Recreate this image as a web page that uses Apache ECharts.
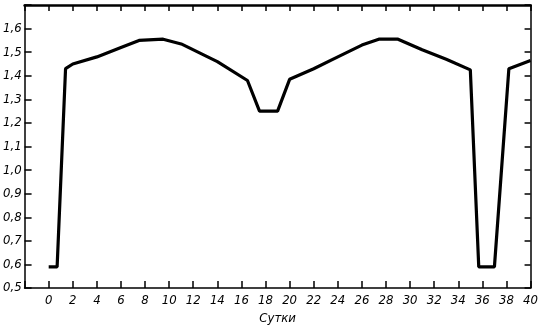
<!DOCTYPE html>
<html><head><meta charset="utf-8">
<script src="https://cdn.jsdelivr.net/npm/echarts@6/dist/echarts.min.js"></script>
<style>html,body{margin:0;padding:0;background:#fff}#c{width:541px;height:330px}</style>
</head><body><div id="c"></div>
<script>
var days = [0, 0.7, 1.4, 2, 4, 6, 7.5, 9.5, 11, 14, 16.5, 17.5, 19, 20, 22, 24, 26, 27.4, 29, 31, 33, 35, 35.7, 37, 38.2, 40];
var values = [0.59, 0.59, 1.43, 1.45, 1.48, 1.52, 1.55, 1.555, 1.535, 1.46, 1.38, 1.25, 1.25, 1.385, 1.43, 1.48, 1.53, 1.555, 1.555, 1.51, 1.47, 1.425, 0.59, 0.59, 1.43, 1.465];
var xName = 'Сутки';
var xRange = [-2, 40, 2];
var yRange = [0.5, 1.7, 0.1];

var pts = days.map(function (d, i) { return [d, values[i]]; });
var font = {fontFamily: 'DejaVu Sans Condensed', fontStyle: 'italic', fontSize: 13, color: '#000'};
var chart = echarts.init(document.getElementById('c'), null, {renderer: 'canvas'});
chart.setOption({
  animation: false,
  backgroundColor: '#fff',
  grid: {left: 20, right: 9, top: 5, bottom: 35, containLabel: false},
  xAxis: [{
    type: 'value', min: xRange[0], max: xRange[1], interval: xRange[2],
    name: xName, nameLocation: 'middle', nameGap: 18,
    nameTextStyle: Object.assign({}, font, {fontSize: 13}),
    axisLine: {onZero: false, lineStyle: {color: '#000', width: 1.5}},
    axisTick: {inside: true, length: 7, lineStyle: {color: '#000', width: 1.5}},
    axisLabel: Object.assign({}, font, {margin: 6, formatter: function (v) { return v < 0 ? '' : String(v); }}),
    splitLine: {show: false}
  }, {
    type: 'value', position: 'top', min: xRange[0], max: xRange[1], interval: xRange[2],
    axisLine: {show: true, onZero: false, lineStyle: {color: '#000', width: 2.5}},
    axisTick: {inside: true, length: 6, lineStyle: {color: '#000', width: 1.5}},
    axisLabel: {show: false}, splitLine: {show: false}
  }],
  yAxis: [{
    type: 'value', min: yRange[0], max: yRange[1], interval: yRange[2],
    axisLine: {show: true, onZero: false, lineStyle: {color: '#000', width: 1.5}},
    axisTick: {inside: true, length: 7, lineStyle: {color: '#000', width: 1.5}},
    axisLabel: Object.assign({}, font, {margin: 3, formatter: function (v) {
      if (v > 1.65) return '';
      return v.toFixed(1).replace('.', ',');
    }}),
    splitLine: {show: false}
  }, {
    type: 'value', position: 'right', min: yRange[0], max: yRange[1], interval: yRange[2],
    axisLine: {show: true, onZero: false, lineStyle: {color: '#000', width: 1.5}},
    axisTick: {inside: true, length: 6, lineStyle: {color: '#000', width: 1.5}},
    axisLabel: {show: false}, splitLine: {show: false}
  }],
  series: [{
    type: 'line', data: pts, symbol: 'none', smooth: false,
    lineStyle: {color: '#000', width: 3.2}
  }]
});
</script></body></html>
